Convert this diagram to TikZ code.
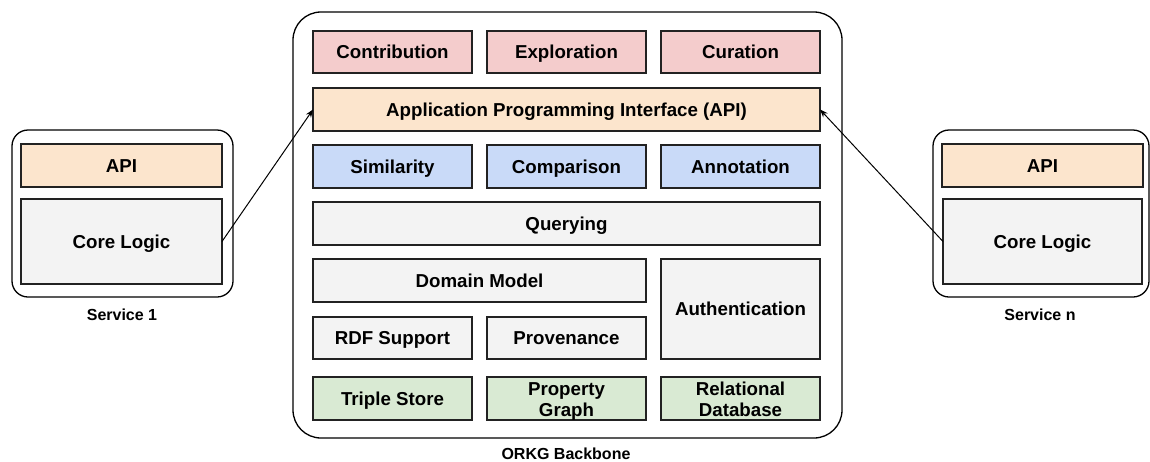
\documentclass[tikz,border=0pt]{standalone}
\usepackage{fontspec}
\setmainfont{Liberation Sans}
\usetikzlibrary{arrows.meta}
\definecolor{redfill}{HTML}{F4CCCC}
\definecolor{orangefill}{HTML}{FCE5CD}
\definecolor{bluefill}{HTML}{C9DAF8}
\definecolor{greenfill}{HTML}{D9EAD3}
\definecolor{grayfill}{HTML}{F3F3F3}
\definecolor{edge}{HTML}{222222}
\begin{document}
\begin{tikzpicture}[x=1pt,y=-1pt,
  layer/.style={draw=edge, line width=1.2pt, rectangle, inner sep=0pt, outer sep=0pt,
    align=center, font=\fontsize{18.7}{21}\selectfont\bfseries,
    text height=16pt, text depth=2.8pt},
  twoline/.style={text height=37.2pt, text depth=1.1pt},
  container/.style={draw=black, line width=1.3pt, rectangle, inner sep=0pt, outer sep=0pt},
  caption/.style={font=\fontsize{16}{19}\selectfont\bfseries, inner sep=0pt},
  link/.style={line width=1pt, -{Stealth[length=8pt,width=6pt]}}]
\useasboundingbox (0,0) rectangle (1150,461);

% ORKG backbone container
\node[container, rounded corners=28pt, minimum width=549pt, minimum height=426pt] (backbone) at (567.5,225) {};
\node[caption] (backbonelabel) at (566,453.5) {ORKG Backbone};

% user-facing features
\node[layer, fill=redfill, minimum width=159pt, minimum height=42pt] (contrib) at (392.5,52) {Contribution};
\node[layer, fill=redfill, minimum width=159pt, minimum height=42pt] (explor) at (566.5,52) {Exploration};
\node[layer, fill=redfill, minimum width=159pt, minimum height=42pt] (curat) at (740.5,52) {Curation};

% API layer
\node[layer, fill=orangefill, minimum width=507pt, minimum height=43pt] (api) at (566.5,109.5) {Application Programming Interface (API)};

% services
\node[layer, fill=bluefill, minimum width=159pt, minimum height=43pt] (simil) at (392.5,166.5) {Similarity};
\node[layer, fill=bluefill, minimum width=159pt, minimum height=43pt] (compar) at (566.5,166.5) {Comparison};
\node[layer, fill=bluefill, minimum width=159pt, minimum height=43pt] (annot) at (740.5,166.5) {Annotation};

% core layers
\node[layer, fill=grayfill, minimum width=507pt, minimum height=43pt] (query) at (566.5,223.5) {Querying};
\node[layer, fill=grayfill, minimum width=333pt, minimum height=43pt] (domain) at (479.5,280.5) {Domain Model};
\node[layer, fill=grayfill, minimum width=159pt, minimum height=100pt] (auth) at (740.5,309) {Authentication};
\node[layer, fill=grayfill, minimum width=159pt, minimum height=42pt] (rdf) at (392.5,338) {RDF Support};
\node[layer, fill=grayfill, minimum width=159pt, minimum height=42pt] (prov) at (566.5,338) {Provenance};

% storage backends
\node[layer, fill=greenfill, minimum width=159pt, minimum height=43pt] (triple) at (392.5,398.5) {Triple Store};
\node[layer, twoline, fill=greenfill, minimum width=159pt, minimum height=43pt] (propgraph) at (566.5,398.5) {Property\\Graph};
\node[layer, twoline, fill=greenfill, minimum width=159pt, minimum height=43pt] (reldb) at (740.5,398.5) {Relational\\Database};

% external service 1
\node[container, rounded corners=16pt, minimum width=221pt, minimum height=167pt] (svc1) at (122.5,213.5) {};
\node[layer, fill=orangefill, minimum width=201pt, minimum height=43pt] (svc1api) at (121.5,165.5) {API};
\node[layer, fill=grayfill, minimum width=201pt, minimum height=85pt] (svc1core) at (121.5,241.5) {Core Logic};
\node[caption] (svc1label) at (122,315) {Service 1};

% external service n
\node[container, rounded corners=16pt, minimum width=216pt, minimum height=167pt] (svcn) at (1041,213.5) {};
\node[layer, fill=orangefill, minimum width=201pt, minimum height=43pt] (svcnapi) at (1042.5,165.5) {API};
\node[layer, fill=grayfill, minimum width=199pt, minimum height=85pt] (svcncore) at (1042.5,241.5) {Core Logic};
\node[caption] (svcnlabel) at (1040,315) {Service n};

% service calls into the backbone API
\draw[link] (svc1core.east) -- (api.west);
\draw[link] (svcncore.west) -- (api.east);
\end{tikzpicture}
\end{document}
